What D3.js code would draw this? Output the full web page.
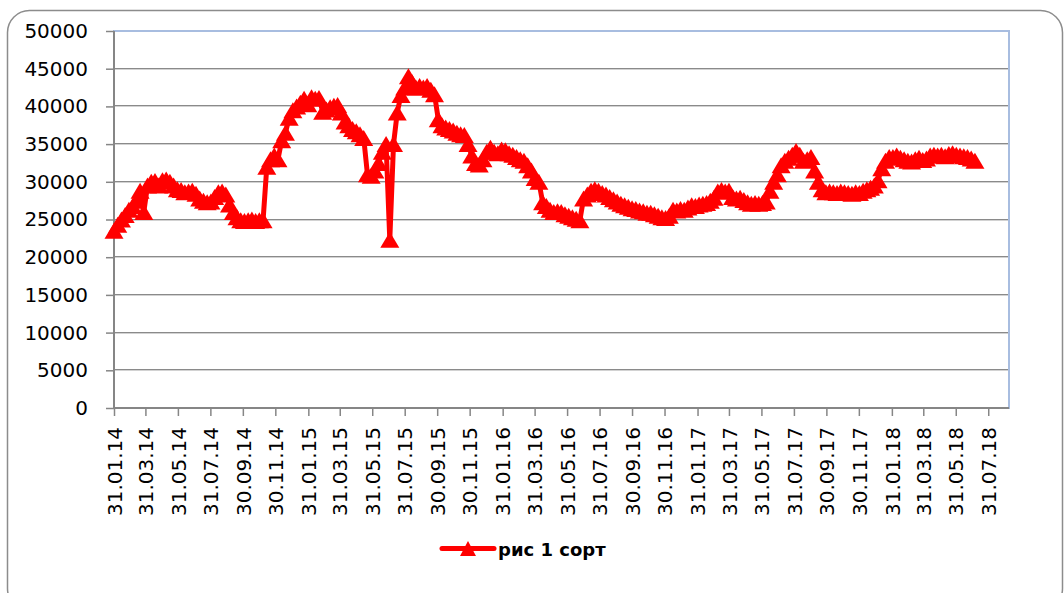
<!DOCTYPE html>
<html>
<head>
<meta charset="utf-8">
<script src="https://cdn.jsdelivr.net/npm/d3@7"></script>
<style>
  html, body { margin: 0; padding: 0; background: #ffffff; }
  svg { display: block; }
</style>
</head>
<body>
<script>
// ---------- data ----------
const seriesName = "рис 1 сорт";
const startDate = "31.01.14";   // first weekly observation
const stepDays = 7;             // weekly observations
const values = [
  23500, 24300, 25000, 25600, 26300, 26800, 27500, 28800, 26000, 29500,
  30000, 30100, 29500, 30200, 30300, 30000, 29500, 29000, 28900, 28600,
  28700, 28800, 28400, 27800, 27500, 27300, 27400, 28000, 28600, 28700,
  28300, 27000, 26000, 25300, 24900, 24800, 24900, 25000, 24800, 24900,
  24900, 32000, 33000, 33500, 33000, 35500, 36500, 38500, 39500, 40000,
  40500, 41000, 40300, 41200, 41000, 41100, 39300, 39600, 39900, 40100,
  40200, 39200, 38000, 37500, 37000, 36700, 36300, 35800, 31000, 30800,
  31500, 32500, 34000, 35000, 22300, 35000, 39200, 41500, 42500, 44000,
  43200, 42500, 42700, 42500, 42700, 42200, 41600, 38300, 37500, 37200,
  37000, 36800, 36500, 36300, 36200, 35000, 33500, 32500, 32300, 33000,
  34000, 34500, 34000, 33800, 34300, 34200, 33800, 33600, 33300, 33000,
  32800, 32200, 31500, 30500, 30000, 27300, 26800, 26300, 26000, 26100,
  26000, 25700, 25500, 25300, 25100, 24900, 27800, 28300, 28800, 29000,
  28800, 28500, 28300, 28000, 27700, 27400, 27100, 26900, 26700, 26500,
  26400, 26200, 26100, 25900, 25900, 25700, 25500, 25300, 25200, 25500,
  26300, 26200, 26400, 26300, 26600, 26900, 26800, 27000, 27100, 27200,
  27500, 27900, 28700, 28900, 28700, 28800, 28000, 27800, 27900, 27600,
  27300, 27100, 27200, 27100, 27200, 27400, 28800, 30000, 31000, 32200,
  32800, 33200, 33600, 34100, 33600, 32800, 33000, 33300, 31500, 30000,
  29000, 28600, 28700, 28600, 28500, 28700, 28600, 28500, 28400, 28600,
  28500, 28800, 29000, 29200, 29500, 30200, 31800, 32800, 33300, 33300,
  33500, 33200, 33000, 32800, 32700, 33000, 33200, 32900, 33100, 33500,
  33600, 33500, 33600, 33400, 33700, 33800, 33600, 33500, 33400, 33300,
  33100, 32800
];
const yTicks = [0, 5000, 10000, 15000, 20000, 25000, 30000, 35000, 40000, 45000, 50000];
const xTickLabels = [
  "31.01.14","31.03.14","31.05.14","31.07.14","30.09.14","30.11.14",
  "31.01.15","31.03.15","31.05.15","31.07.15","30.09.15","30.11.15",
  "31.01.16","31.03.16","31.05.16","31.07.16","30.09.16","30.11.16",
  "31.01.17","31.03.17","31.05.17","31.07.17","30.09.17","30.11.17",
  "31.01.18","31.03.18","31.05.18","31.07.18"
];
const axisEnd = "08.09.18";

// ---------- setup ----------
const W = 1064, H = 593;
const parse = d3.timeParse("%d.%m.%y");
const fmt = d3.timeFormat("%d.%m.%y");
const t0 = parse(startDate);
const data = values.map((v, i) => ({ date: d3.timeDay.offset(t0, i * stepDays), value: v }));

const plot = { left: 114, top: 31, right: 1009, bottom: 408 };
const FONT = "'DejaVu Sans', sans-serif";

const svg = d3.select("body").append("svg")
  .attr("width", W).attr("height", H);

svg.append("rect").attr("width", W).attr("height", H).attr("fill", "#fff");

// outer chart border (rounded)
svg.append("rect")
  .attr("x", 7.5).attr("y", 10.5)
  .attr("width", 1055).attr("height", 600)
  .attr("rx", 22).attr("ry", 22)
  .attr("fill", "none").attr("stroke", "#8c8c8c").attr("stroke-width", 1.5);

const x = d3.scaleTime()
  .domain([parse(startDate), parse(axisEnd)])
  .range([plot.left, plot.right]);
const y = d3.scaleLinear()
  .domain([0, 50000])
  .range([plot.bottom, plot.top]);

// gridlines
const grid = svg.append("g");
yTicks.filter(v => v > 0 && v < 50000).forEach(v => {
  const yy = Math.round(y(v));
  grid.append("line").attr("x1", plot.left).attr("x2", plot.right)
    .attr("y1", yy - 0.5).attr("y2", yy - 0.5)
    .attr("stroke", "#8a8a8a").attr("stroke-width", 1);
  grid.append("line").attr("x1", plot.left).attr("x2", plot.right)
    .attr("y1", yy + 0.5).attr("y2", yy + 0.5)
    .attr("stroke", "#d2d2d2").attr("stroke-width", 1);
});

// plot area border (light blue top / right)
svg.append("rect")
  .attr("x", plot.left).attr("y", plot.top)
  .attr("width", plot.right - plot.left).attr("height", plot.bottom - plot.top)
  .attr("fill", "none").attr("stroke", "#a8bde0").attr("stroke-width", 2);

// y axis
const yAxis = svg.append("g")
  .attr("transform", `translate(${plot.left},0)`)
  .call(d3.axisLeft(y).tickValues(yTicks).tickSize(8).tickPadding(18).tickFormat(d3.format("d")));
yAxis.select(".domain").attr("stroke", "#868686").attr("stroke-width", 2)
  .attr("d", `M0,${plot.top}V${plot.bottom}`);
yAxis.selectAll(".tick line").attr("stroke", "#868686").attr("stroke-width", 1.5);
yAxis.selectAll(".tick text")
  .attr("font-family", FONT).attr("font-size", 20).attr("fill", "#000");

// x axis
const xTickDates = xTickLabels.map(parse);
const xAxis = svg.append("g")
  .attr("transform", `translate(0,${plot.bottom})`)
  .call(d3.axisBottom(x).tickValues(xTickDates).tickSize(8).tickFormat(d => fmt(d)));
xAxis.select(".domain").attr("stroke", "#868686").attr("stroke-width", 2)
  .attr("d", `M${plot.left},0H${plot.right}`);
xAxis.selectAll(".tick line").attr("stroke", "#868686").attr("stroke-width", 1.5);
xAxis.selectAll(".tick text")
  .attr("font-family", FONT).attr("font-size", 20).attr("fill", "#000")
  .attr("text-anchor", "end")
  .attr("transform", "translate(0,19) rotate(-90)")
  .attr("x", 0).attr("y", 0).attr("dy", "0.36em");

// series line
const line = d3.line().x(d => x(d.date)).y(d => y(d.value));
svg.append("path").datum(data)
  .attr("d", line)
  .attr("fill", "none").attr("stroke", "#ff0000")
  .attr("stroke-width", 5).attr("stroke-linejoin", "round").attr("stroke-linecap", "round");

// triangle markers
const tri = "M0,-8L9.5,8L-9.5,8Z";
svg.append("g").selectAll("path").data(data).join("path")
  .attr("d", tri)
  .attr("transform", d => `translate(${x(d.date)},${y(d.value)})`)
  .attr("fill", "#ff0000");

// legend
const lg = svg.append("g");
lg.append("line").attr("x1", 442).attr("x2", 494).attr("y1", 548.5).attr("y2", 548.5)
  .attr("stroke", "#ff0000").attr("stroke-width", 5).attr("stroke-linecap", "round");
lg.append("path").attr("d", "M0,-7.5L8,7.5L-8,7.5Z")
  .attr("transform", "translate(468,548.5)").attr("fill", "#ff0000");
lg.append("text").attr("x", 498).attr("y", 556)
  .attr("font-family", FONT).attr("font-size", 18).attr("font-weight", "bold")
  .attr("fill", "#000").text(seriesName);
</script>
</body>
</html>
